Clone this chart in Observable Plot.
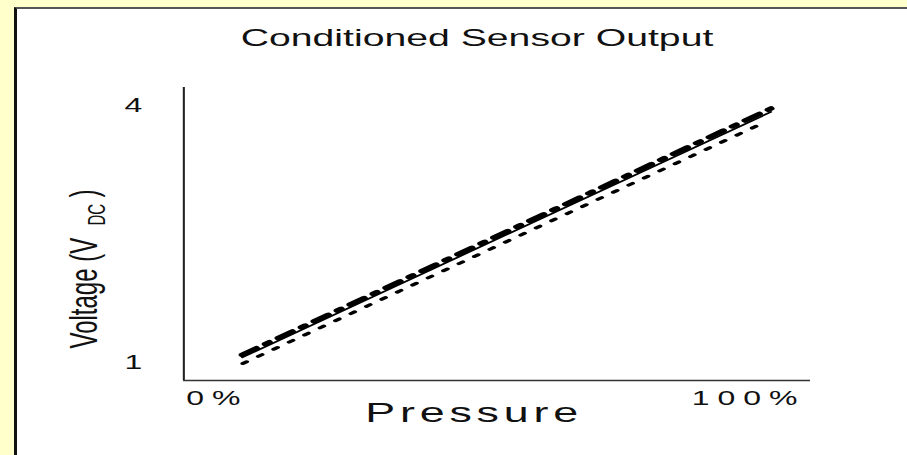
<!DOCTYPE html>
<html><head><meta charset="utf-8">
<script src="https://cdn.jsdelivr.net/npm/d3@7"></script>
<script src="https://cdn.jsdelivr.net/npm/@observablehq/plot@0.6"></script>
<style>
html,body{margin:0;padding:0;background:#ffffcc;width:907px;height:455px;overflow:hidden;}
#panel{position:absolute;left:14px;top:7px;width:900px;height:460px;background:#fff;border-left:3px solid #111;border-top:2px solid #555;}
#chart{position:absolute;left:0;top:0;width:907px;height:455px;}
#chart svg{width:907px !important;height:455px !important;max-width:none !important;background:transparent !important;}
</style></head>
<body><div id="panel"></div><div id="chart"></div>
<script>
// ---- data ----
const titleText = "Conditioned Sensor Output";
const xLabelText = "Pressure";
const yLabelMain = "Voltage (V";
const yLabelSub = "DC";
const yLabelEnd = ")";
const xTicks = [0, 100];
const xTickLabels = ["0%", "100%"];
const yTicks = [1, 4];
const xDomain = [-6, 112];
const yDomain = [0.79, 4.21];
// nominal output (solid)
const pressureNominal = [5, 104.5];
const voltageNominal = [1.06, 3.925];
// upper output (dash-dot)
const pressureHigh = [5, 104.5];
const voltageHigh = [1.09, 3.965];
// lower output (dotted)
const pressureLow = [5.1, 102];
const voltageLow = [0.988, 3.766];

const toRows = (xs, ys) => xs.map((x, i) => ({x, y: ys[i]}));

// ---- layout ----
const STRETCH = 1.6, W = 907, H = 455, innerW = W / STRETCH;
const font = "'Liberation Sans', Arial, sans-serif";

const plot = Plot.plot({
  width: innerW, height: H,
  marginLeft: 114.4, marginRight: innerW - 506.25, marginTop: 87, marginBottom: 75,
  style: {background: "transparent", fontFamily: font, color: "#111"},
  x: {domain: xDomain, axis: null},
  y: {domain: yDomain, axis: null},
  marks: [
    Plot.ruleX([xDomain[0]], {stroke: "#222", strokeWidth: 1.3}),
    Plot.ruleY([yDomain[0]], {stroke: "#333", strokeWidth: 1.5}),
    Plot.axisX(xTicks, {tickSize: 0, tickPadding: 10, fontSize: 20, dx: 1, label: null,
      tickFormat: d => xTickLabels[xTicks.indexOf(d)]}),
    Plot.axisY(yTicks, {tickSize: 0, tickPadding: 26, fontSize: 20, label: null, tickFormat: d => String(d)}),
    Plot.line(toRows(pressureNominal, voltageNominal), {x: "x", y: "y", stroke: "#000", strokeWidth: 1.6}),
    Plot.line(toRows(pressureHigh, voltageHigh), {x: "x", y: "y", stroke: "#000", strokeWidth: 4.5, strokeDasharray: "11,7,3,7"}),
    Plot.line(toRows(pressureLow, voltageLow), {x: "x", y: "y", stroke: "#000", strokeWidth: 3, strokeDasharray: "3,9"}),
    Plot.text([titleText], {frameAnchor: "top", lineAnchor: "middle", dx: -12.7, dy: -49, fontSize: 24.5, text: d => d, fill: "#111"}),
    Plot.text([xLabelText], {frameAnchor: "bottom", lineAnchor: "middle", dx: -14.5, dy: 33, fontSize: 28, text: d => d, fill: "#111"}),
    Plot.text([yLabelMain], {frameAnchor: "left", rotate: -90, textAnchor: "start", dx: -62, dy: 114.5, fontSize: 24, text: d => d, fill: "#111"}),
    Plot.text([yLabelSub], {frameAnchor: "left", rotate: -90, textAnchor: "start", dx: -53.8, dy: -8.5, fontSize: 15, text: d => d, fill: "#111"}),
    Plot.text([yLabelEnd], {frameAnchor: "left", rotate: -90, textAnchor: "start", dx: -62, dy: -36.5, fontSize: 24, text: d => d, fill: "#111"})
  ]
});

plot.setAttribute("width", W);
plot.setAttribute("height", H);
plot.setAttribute("preserveAspectRatio", "none");
d3.select(plot).selectAll("text").each(function() {
  const t = this.textContent;
  if (xTickLabels.includes(t)) this.style.letterSpacing = "5px";
  else if (t === xLabelText) this.style.letterSpacing = "3px";
});
document.getElementById("chart").appendChild(plot);
</script>
</body></html>
